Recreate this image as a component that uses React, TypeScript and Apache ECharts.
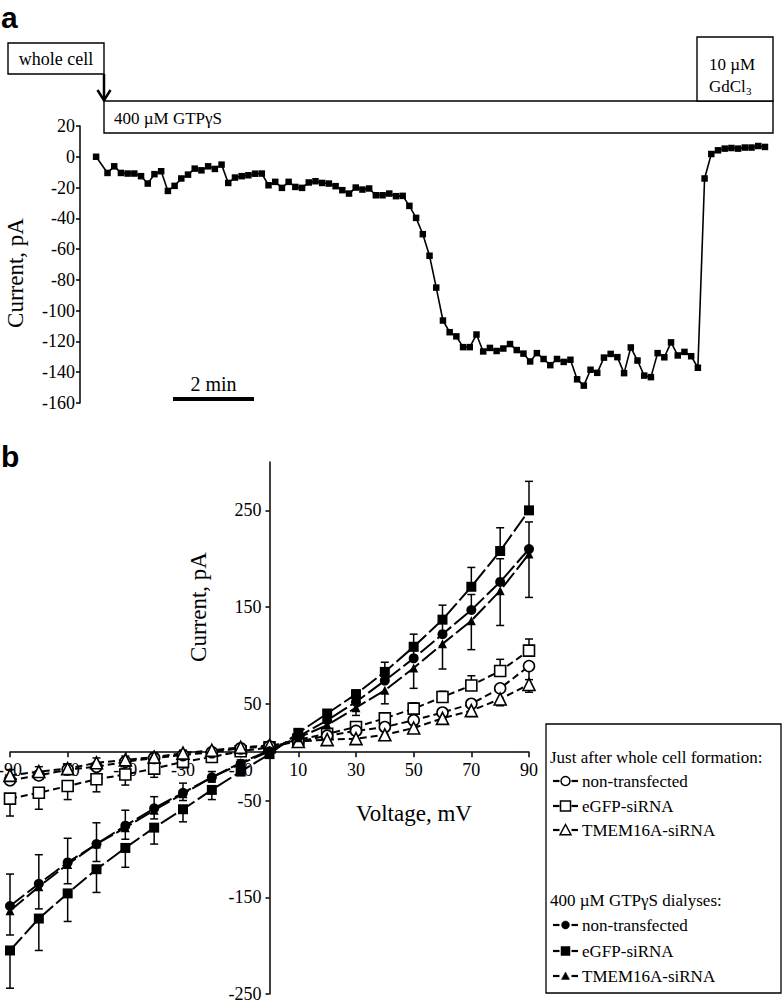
import React, { useEffect, useRef } from "react";
import * as echarts from "echarts";

const SERIF = "'Liberation Serif', 'Times New Roman', Times, serif";
const SANS = "'Liberation Sans', Arial, Helvetica, sans-serif";

// ---------- Panel a: current trace (pA), one sample every 10 s ----------
const traceCurrent = [
  0,
  -10.5, -6.2, -10.5, -10.9, -10.9, -12.6, -17.4, -11.3, -9.4, -22.2, -18.9, -14.1,
  -11.6, -7.7, -8.8, -6.2, -7.9, -5.1, -17, -13.5, -12.6, -12, -11,
  -10.9,
  -18.5, -16.3, -20.2, -16.3, -19.6, -20.2, -16.7, -15.9, -17, -17.4, -19.1, -21.7,
  -23.9, -20, -21.3, -20.6, -25, -25, -23.9, -25.6, -25.4, -31.9, -39.7, -50.3,
  -64.3, -85, -106.4, -114, -116.7, -123.7, -123.7, -115.5, -126.5, -124.2, -126.2,
  -124.6, -121.7, -125.6, -127.9, -133, -127.6, -131.4, -135.4, -131.4, -133.3, -131.9,
  -144.6, -148.7, -138.4, -140.4, -130.5, -128.1, -130.2, -140.6, -123.9, -132.4,
  -142.2, -143.2, -127.6, -130.3, -120.6, -129.1, -126.8, -129.6, -137.1,
  -14.1, 1.8, 4.2, 5.3, 5.7, 5.3, 6, 6, 7, 6.4,
];
// acquisition times (s): first sample at 0, then 17 s and every 10 s after
const traceTimes = traceCurrent.map((_, i) => (i === 0 ? 0 : 17 + (i - 1) * 10));

// ---------- Panel b: I-V curves ----------
const voltages = [-90, -80, -70, -60, -50, -40, -30, -20, -10, 0, 10, 20, 30, 40, 50, 60, 70, 80, 90];
const voltageTicks = [-90, -70, -50, -30, -10, 10, 30, 50, 70, 90];
const currentTicks = [-250, -150, -50, 50, 150, 250];

// Just after whole cell formation (open symbols, dashed)
const ctrlNonTransfected = [-29, -24, -18, -15, -10, -6, -3, 0, 4, 6, 11, 17, 22, 26, 33, 41, 50, 66, 89];
const ctrlNonTransfectedErr = [5, 4, 4, 3, 3, 2, 2, 1, 1, 0, 1, 2, 3, 4, 5, 7, 9, 12, 14];
const ctrlEgfp = [-48, -42, -35, -28, -23, -17, -10, -5, 1, 5, 13, 19, 26, 35, 45, 57, 69, 84, 105];
const ctrlEgfpErr = [18, 17, 14, 13, 11, 9, 6, 4, 2, 0, 2, 3, 4, 5, 6, 6, 10, 12, 12];
const ctrlTmem = [-24, -20, -17, -11, -8, -5, -1, 2, 5, 7, 11, 13, 14, 18, 25, 35, 43, 55, 70];
const ctrlTmemErr = [6, 5, 5, 5, 4, 4, 3, 2, 1, 0, 1, 2, 3, 3, 4, 5, 6, 7, 8];

// 400 µM GTPγS dialyses (filled symbols)
const gtpNonTransfected = [-159, -136, -114, -95, -76, -58, -42, -26, -12, 1, 16, 33, 52, 74, 97, 122, 147, 176, 210];
const gtpNonTransfectedErr = [30, 26, 22, 18, 14, 11, 8, 5, 3, 0, 2, 3, 4, 6, 8, 12, 16, 24, 28];
const gtpEgfp = [-205, -172, -146, -121, -99, -78, -59, -39, -20, -2, 20, 40, 60, 83, 109, 137, 171, 208, 250];
const gtpEgfpErr = [39, 33, 29, 24, 20, 17, 13, 10, 4, 0, 2, 3, 4, 10, 13, 15, 20, 24, 30];
const gtpTmem = [-164, -139, -116, -95, -78, -60, -43, -26, -11, 2, 15, 28, 46, 64, 87, 112, 136, 167, 205];
const gtpTmemErr = [38, 33, 27, 22, 18, 14, 11, 6, 3, 0, 2, 4, 8, 14, 21, 26, 30, 36, 45];

const BLACK = "#000";

// panel b grid geometry and axis ranges
const B_LEFT = 10, B_TOP = 462, B_W = 519, B_H = 532;
const V_MIN = -90, V_MAX = 90, I_MIN = -250, I_MAX = 300;
const yAxisOffset = -(B_W * (0 - V_MIN)) / (V_MAX - V_MIN);
const xAxisOffset = -(B_H * (0 - I_MIN)) / (I_MAX - I_MIN);

function ivLine(name: string, values: number[], symbol: string, size: number, filled: boolean, dash: number[], z: number) {
  return {
    name,
    type: "line",
    xAxisIndex: 1,
    yAxisIndex: 1,
    data: voltages.map((v, i) => [v, values[i]]),
    symbol,
    symbolSize: size,
    showAllSymbol: true,
    lineStyle: { color: BLACK, width: 2, type: dash },
    itemStyle: filled
      ? { color: BLACK, borderColor: BLACK, borderWidth: 0 }
      : { color: "#fff", borderColor: BLACK, borderWidth: 1.6 },
    z,
    silent: true,
  };
}

// dir = 1: error bar points away from zero; dir = -1: towards zero
function errBars(values: number[], errs: number[], dir: number, z: number) {
  return {
    type: "custom",
    xAxisIndex: 1,
    yAxisIndex: 1,
    encode: { x: 0, y: 1 },
    data: voltages.map((v, i) => [v, values[i], errs[i]]),
    renderItem: (_p: any, api: any) => {
      const v = api.value(0);
      const y = api.value(1);
      const e = api.value(2);
      if (!e) return null;
      const s = (y >= 0 ? 1 : -1) * dir;
      const p0 = api.coord([v, y]);
      const p1 = api.coord([v, y + s * e]);
      return {
        type: "group",
        children: [
          { type: "line", shape: { x1: p0[0], y1: p0[1], x2: p1[0], y2: p1[1] }, style: { stroke: BLACK, lineWidth: 1.5 } },
          { type: "line", shape: { x1: p1[0] - 4, y1: p1[1], x2: p1[0] + 4, y2: p1[1] }, style: { stroke: BLACK, lineWidth: 1.5 } },
        ],
      };
    },
    z,
    silent: true,
  };
}

function txt(text: string, x: number, y: number, size: number, opts: any = {}) {
  return {
    type: "text",
    x,
    y,
    rotation: opts.rotation || 0,
    silent: true,
    z: 100,
    style: {
      text,
      fill: BLACK,
      font: `${opts.bold ? "bold " : ""}${size}px ${opts.family || SERIF}`,
      align: opts.align || "left",
      verticalAlign: "middle",
    },
  };
}

function legendGraphics() {
  const els: any[] = [];
  els.push({
    type: "rect",
    shape: { x: 546, y: 724, width: 235, height: 269 },
    style: { fill: "#fff", stroke: BLACK, lineWidth: 1.3 },
    z: 90,
    silent: true,
  });
  els.push(txt("Just after whole cell formation:", 550, 757, 17));
  els.push(txt("400 \u00b5M GTP\u03b3S dialyses:", 550, 900, 17));
  const items = [
    { y: 781, label: "non-transfected", sym: "circle", filled: false },
    { y: 806, label: "eGFP-siRNA", sym: "rect", filled: false },
    { y: 830, label: "TMEM16A-siRNA", sym: "triangle", filled: false },
    { y: 925, label: "non-transfected", sym: "circle", filled: true },
    { y: 951, label: "eGFP-siRNA", sym: "rect", filled: true },
    { y: 976, label: "TMEM16A-siRNA", sym: "triangle", filled: true },
  ];
  const cx = 565.5;
  items.forEach((it) => {
    els.push({ type: "line", shape: { x1: 553, y1: it.y, x2: 559.5, y2: it.y }, style: { stroke: BLACK, lineWidth: 2.2 }, z: 95 });
    els.push({ type: "line", shape: { x1: 571.5, y1: it.y, x2: 578, y2: it.y }, style: { stroke: BLACK, lineWidth: 2.2 }, z: 95 });
    const style = it.filled
      ? { fill: BLACK, stroke: BLACK, lineWidth: 0.5 }
      : { fill: "#fff", stroke: BLACK, lineWidth: 1.5 };
    if (it.sym === "circle") {
      els.push({ type: "circle", shape: { cx, cy: it.y, r: it.filled ? 4 : 4.5 }, style, z: 96 });
    } else if (it.sym === "rect") {
      const h = it.filled ? 4.5 : 5;
      els.push({ type: "rect", shape: { x: cx - h, y: it.y - h, width: 2 * h, height: 2 * h }, style, z: 96 });
    } else {
      const h = it.filled ? 4 : 5.5;
      els.push({
        type: "polygon",
        shape: { points: [[cx, it.y - h], [cx + h, it.y + h * 0.85], [cx - h, it.y + h * 0.85]] },
        style,
        z: 96,
      });
    }
    els.push(txt(it.label, 582, it.y, 17));
  });
  return els;
}

export default function App() {
  const ref = useRef<HTMLDivElement>(null);

  useEffect(() => {
    if (!ref.current) return;
    const chart = echarts.init(ref.current, null, { renderer: "svg" });

    const axisLabel = { color: BLACK, fontSize: 18, fontFamily: SERIF };

    const option: any = {
      animation: false,
      backgroundColor: "#fff",
      grid: [
        { left: 80, top: 126, width: 691, height: 277, containLabel: false, outerBoundsMode: "none" },
        { left: B_LEFT, top: B_TOP, width: B_W, height: B_H, containLabel: false, outerBoundsMode: "none" },
      ],
      xAxis: [
        { type: "value", gridIndex: 0, min: -24, max: 1006, show: false },
        {
          type: "value",
          gridIndex: 1,
          min: V_MIN,
          max: V_MAX,
          position: "bottom",
          offset: xAxisOffset,
          axisLine: { show: true, onZero: false, lineStyle: { color: BLACK, width: 1.5 } },
          axisTick: { show: true, length: 5, lineStyle: { color: BLACK, width: 1.5 }, customValues: voltageTicks },
          axisLabel: { ...axisLabel, margin: 9, customValues: voltageTicks },
          splitLine: { show: false },
        },
      ],
      yAxis: [
        {
          type: "value",
          gridIndex: 0,
          min: -160,
          max: 20,
          interval: 20,
          axisLine: { show: true, onZero: false, lineStyle: { color: BLACK, width: 1.5 } },
          axisTick: { show: true, length: 4, lineStyle: { color: BLACK, width: 1.5 } },
          axisLabel: { ...axisLabel, margin: 5 },
          splitLine: { show: false },
        },
        {
          type: "value",
          gridIndex: 1,
          min: I_MIN,
          max: I_MAX,
          position: "left",
          offset: yAxisOffset,
          axisLine: { show: true, onZero: false, lineStyle: { color: BLACK, width: 1.5 } },
          axisTick: { show: true, length: 4, lineStyle: { color: BLACK, width: 1.5 }, customValues: currentTicks },
          axisLabel: { ...axisLabel, margin: 8, customValues: currentTicks },
          splitLine: { show: false },
        },
      ],
      series: [
        {
          type: "line",
          xAxisIndex: 0,
          yAxisIndex: 0,
          data: traceTimes.map((t, i) => [t, traceCurrent[i]]),
          symbol: "rect",
          symbolSize: 6.5,
          showAllSymbol: true,
          lineStyle: { color: BLACK, width: 1.6 },
          itemStyle: { color: BLACK },
          silent: true,
        },
        errBars(ctrlEgfp, ctrlEgfpErr, 1, 2),
        errBars(ctrlNonTransfected, ctrlNonTransfectedErr, -1, 2),
        errBars(ctrlTmem, ctrlTmemErr, -1, 2),
        errBars(gtpEgfp, gtpEgfpErr, 1, 2),
        errBars(gtpNonTransfected, gtpNonTransfectedErr, 1, 2),
        errBars(gtpTmem, gtpTmemErr, -1, 2),
        ivLine("ctrl eGFP", ctrlEgfp, "rect", 11, false, [7, 4], 3),
        ivLine("ctrl non", ctrlNonTransfected, "circle", 11, false, [7, 4], 3),
        ivLine("ctrl TMEM", ctrlTmem, "triangle", 12, false, [7, 4], 3),
        ivLine("gtp non", gtpNonTransfected, "circle", 10, true, [18, 4], 4),
        ivLine("gtp TMEM", gtpTmem, "triangle", 9, true, [18, 4], 4),
        ivLine("gtp eGFP", gtpEgfp, "rect", 10, true, [18, 4], 4),
      ],
      graphic: {
        elements: [
          txt("a", 1, 17.5, 30, { bold: true, family: SANS }),
          txt("b", 1, 456, 30, { bold: true, family: SANS }),
          // whole cell box + arrow
          { type: "rect", shape: { x: 8, y: 43, width: 96, height: 31 }, style: { fill: "#fff", stroke: BLACK, lineWidth: 1.4 }, z: 90 },
          txt("whole cell", 56, 58.5, 18, { align: "center" }),
          { type: "line", shape: { x1: 104, y1: 74, x2: 104, y2: 100 }, style: { stroke: BLACK, lineWidth: 2.5 }, z: 90 },
          { type: "polyline", shape: { points: [[97.5, 90], [104, 100.5], [110.5, 90]] }, style: { stroke: BLACK, lineWidth: 2.5, fill: null }, z: 90 },
          // GTPγS box
          { type: "rect", shape: { x: 104, y: 101, width: 669, height: 32 }, style: { fill: "#fff", stroke: BLACK, lineWidth: 1.4 }, z: 90 },
          txt("400 \u00b5M GTP\u03b3S", 114, 118, 17),
          // GdCl3 box
          { type: "rect", shape: { x: 697, y: 37, width: 76, height: 64 }, style: { fill: "#fff", stroke: BLACK, lineWidth: 1.4 }, z: 90 },
          txt("10 \u00b5M", 709, 64, 17),
          txt("GdCl", 709, 86, 17),
          txt("3", 746, 91, 11),
          // scale bar
          { type: "rect", shape: { x: 173, y: 397, width: 81, height: 4 }, style: { fill: BLACK }, z: 90 },
          txt("2 min", 213.5, 384, 20, { align: "center" }),
          // axis titles
          txt("Current, pA", 15, 273, 23, { align: "center", rotation: Math.PI / 2 }),
          txt("Current, pA", 198, 607, 23, { align: "center", rotation: Math.PI / 2 }),
          txt("Voltage, mV", 414, 813, 23, { align: "center" }),
          ...legendGraphics(),
        ],
      },
    };

    chart.setOption(option);
    return () => chart.dispose();
  }, []);

  return (
    <div
      ref={ref}
      style={{ position: "absolute", left: 0, top: 0, width: 782, height: 1004, background: "#fff" }}
    />
  );
}
